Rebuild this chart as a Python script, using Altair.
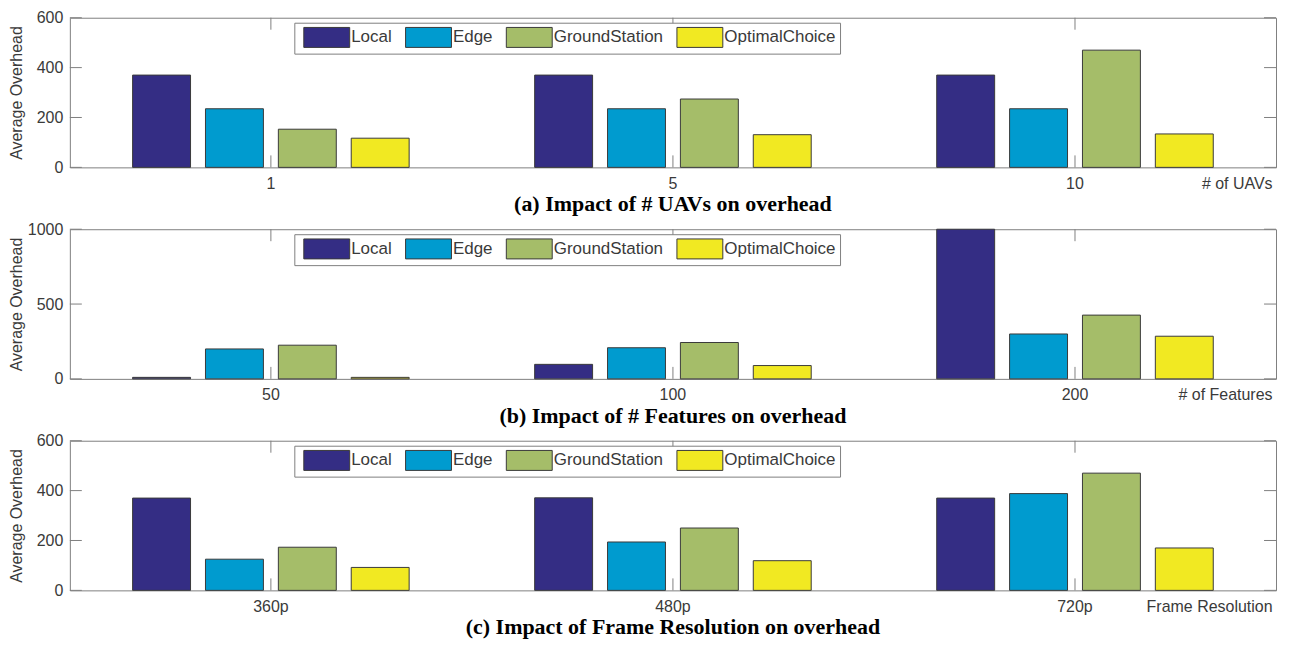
import altair as alt
import pandas as pd

series = ["Local", "Edge", "GroundStation", "OptimalChoice"]
colors = ["#342D84", "#009BCF", "#A5BD69", "#F1E922"]

uav_cats = ["1", "5", "10"]
uav_local = [370, 370, 370]
uav_edge = [235, 235, 235]
uav_ground = [153, 274, 470]
uav_optimal = [117, 131, 134]

feat_cats = ["50", "100", "200"]
feat_local = [10, 97, 1000]
feat_edge = [200, 208, 300]
feat_ground = [225, 243, 426]
feat_optimal = [10, 89, 285]

res_cats = ["360p", "480p", "720p"]
res_local = [370, 371, 370]
res_edge = [125, 194, 388]
res_ground = [173, 250, 470]
res_optimal = [92, 119, 170]

W = 1209
H = 150
GRAY = "#808080"
TXT = "#3a3a3a"
FONT = "Liberation Sans"


def long_df(cats, lists):
    rows = []
    for s, vals in zip(series, lists):
        for c, v in zip(cats, vals):
            rows.append({"cat": c, "series": s, "value": v})
    return pd.DataFrame(rows)


def panel(cats, lists, ymax, yticks, xtitle, caption):
    df = long_df(cats, lists)
    cat_df = pd.DataFrame({"cat": cats})
    tick_df = pd.DataFrame({"t": yticks})
    xscale = alt.Scale(paddingInner=0.275, paddingOuter=0.1375)
    yscale = alt.Scale(domain=[0, ymax], nice=False)

    bars = alt.Chart(df).mark_bar(stroke="#3a3a3a", strokeWidth=1).encode(
        x=alt.X("cat:N", sort=cats, scale=xscale,
                axis=alt.Axis(title=xtitle, tickSize=0, domain=False, labelAngle=0,
                              labelPadding=8, labelFontSize=16, labelFont=FONT,
                              labelColor=TXT, titleFont=FONT, titleFontSize=16,
                              titleFontWeight="normal", titleColor=TXT,
                              titleAnchor="end", titleAlign="right",
                              titleX=W - 4, titleY=16, titleBaseline="middle")),
        xOffset=alt.XOffset("series:N", sort=series,
                            scale=alt.Scale(paddingInner=0.205, paddingOuter=0.1025)),
        y=alt.Y("value:Q", scale=yscale,
                axis=alt.Axis(title="Average Overhead", values=yticks, format="d",
                              tickSize=0, domain=False, grid=False, labelPadding=7,
                              labelFontSize=16, labelFont=FONT, labelColor=TXT,
                              titleFont=FONT, titleFontSize=16, titleFontWeight="normal",
                              titleColor=TXT, titleX=-53, titleY=H / 2,
                              titleBaseline="middle")),
        color=alt.Color("series:N", sort=series,
                        scale=alt.Scale(domain=series, range=colors),
                        legend=alt.Legend(title=None, orient="none", legendX=225, legendY=5,
                                          direction="horizontal",
                                          symbolType="M-0.5,-1H4.1V1H-0.5Z",
                                          symbolSize=400, symbolStrokeColor="#3a3a3a",
                                          symbolStrokeWidth=1, symbolOpacity=1,
                                          labelFont=FONT, labelFontSize=17, labelColor=TXT,
                                          labelOffset=32, columnPadding=8, padding=4,
                                          strokeColor=GRAY, fillColor="white",
                                          labelLimit=300)),
    )

    xt_bottom = alt.Chart(cat_df).mark_rule(color=GRAY, strokeWidth=1, y2Offset=-12).encode(
        x=alt.X("cat:N", sort=cats),
        y=alt.YDatum(0),
        y2=alt.Y2Datum(0),
    )
    xt_top = alt.Chart(cat_df).mark_rule(color=GRAY, strokeWidth=1, y2Offset=12).encode(
        x=alt.X("cat:N", sort=cats),
        y=alt.YDatum(ymax),
        y2=alt.Y2Datum(ymax),
    )
    yt_left = alt.Chart(tick_df).mark_rule(color=GRAY, strokeWidth=1).encode(
        y=alt.Y("t:Q"), x=alt.value(0), x2=alt.value(12)
    )
    yt_right = alt.Chart(tick_df).mark_rule(color=GRAY, strokeWidth=1).encode(
        y=alt.Y("t:Q"), x=alt.value(W), x2=alt.value(W - 12)
    )

    return alt.layer(bars, xt_bottom, xt_top, yt_left, yt_right).properties(
        width=W, height=H,
        title=alt.TitleParams(caption, orient="bottom", anchor="middle",
                              font="Liberation Serif", fontSize=22, fontWeight="bold",
                              color="black", offset=3),
    )


p1 = panel(uav_cats, [uav_local, uav_edge, uav_ground, uav_optimal], 600,
           [0, 200, 400, 600], "# of UAVs", "(a) Impact of # UAVs on overhead")
p2 = panel(feat_cats, [feat_local, feat_edge, feat_ground, feat_optimal], 1000,
           [0, 500, 1000], "# of Features", "(b) Impact of # Features on overhead")
p3 = panel(res_cats, [res_local, res_edge, res_ground, res_optimal], 600,
           [0, 200, 400, 600], "Frame Resolution", "(c) Impact of Frame Resolution on overhead")

chart = alt.vconcat(p1, p2, p3, spacing=4).resolve_scale(
    color="independent", x="independent", y="independent"
).configure_view(stroke=GRAY, strokeWidth=1).properties(
    padding={"top": 0, "left": 0, "right": 5, "bottom": 0},
    background="white",
)

chart.save("out.html", embed_options={"renderer": "svg", "actions": False})
